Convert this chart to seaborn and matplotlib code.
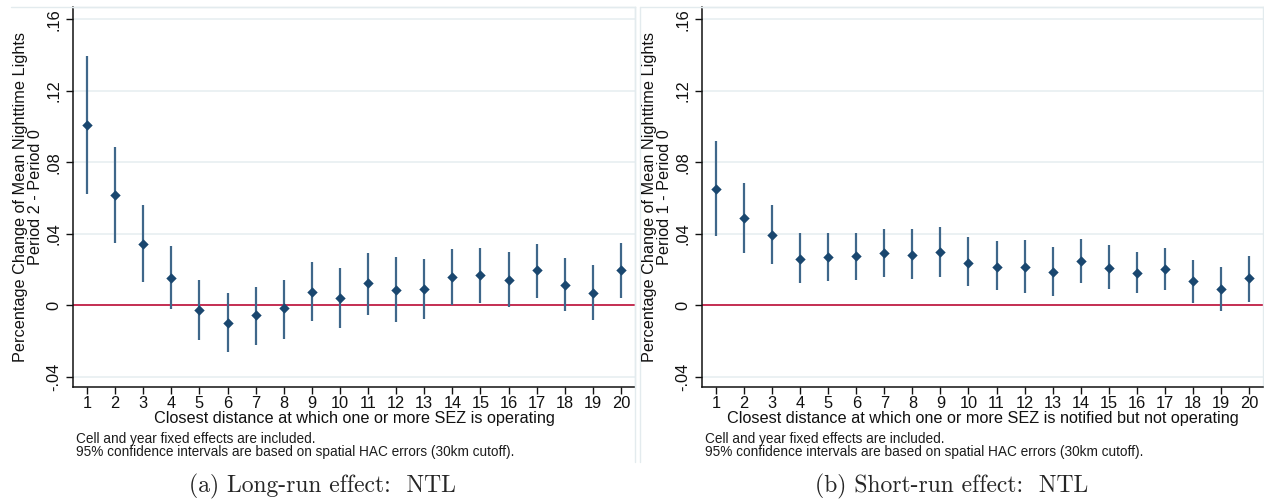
import matplotlib
matplotlib.use("Agg")
import matplotlib.pyplot as plt
from matplotlib.lines import Line2D
import numpy as np
import pandas as pd
import seaborn as sns

# Distance bins (km) to the closest SEZ
distance = list(range(1, 21))

# Panel (a): long-run effect, Period 2 - Period 0
long_coef = [0.1007, 0.0616, 0.0343, 0.0151, -0.0026, -0.0101, -0.0056, -0.0017, 0.0076, 0.0041,
             0.0123, 0.0086, 0.0093, 0.0160, 0.0168, 0.0143, 0.0196, 0.0114, 0.0071, 0.0196]
long_hi = [0.1397, 0.0888, 0.0563, 0.0334, 0.0143, 0.0067, 0.0104, 0.0142, 0.0244, 0.0207,
           0.0291, 0.0269, 0.0261, 0.0313, 0.0319, 0.0297, 0.0341, 0.0266, 0.0224, 0.0349]
long_lo = [0.0623, 0.0347, 0.0130, -0.0022, -0.0194, -0.0261, -0.0222, -0.0187, -0.0090, -0.0127,
           -0.0056, -0.0092, -0.0077, 0.0000, 0.0011, -0.0011, 0.0041, -0.0032, -0.0082, 0.0041]

# Panel (b): short-run effect, Period 1 - Period 0
short_coef = [0.0653, 0.0490, 0.0393, 0.0261, 0.0270, 0.0278, 0.0291, 0.0283, 0.0300, 0.0238,
              0.0216, 0.0216, 0.0186, 0.0248, 0.0210, 0.0181, 0.0203, 0.0136, 0.0091, 0.0151]
short_hi = [0.0918, 0.0683, 0.0561, 0.0406, 0.0406, 0.0406, 0.0425, 0.0425, 0.0440, 0.0380,
            0.0358, 0.0365, 0.0328, 0.0373, 0.0336, 0.0297, 0.0321, 0.0252, 0.0216, 0.0276]
short_lo = [0.0390, 0.0293, 0.0233, 0.0123, 0.0136, 0.0143, 0.0160, 0.0145, 0.0160, 0.0108,
            0.0086, 0.0071, 0.0050, 0.0123, 0.0093, 0.0071, 0.0086, 0.0011, -0.0032, 0.0018]

ytick_vals = [-0.04, 0.0, 0.04, 0.08, 0.12, 0.16]
ytick_labels = ["-.04", "0", ".04", ".08", ".12", ".16"]

xlabels = ["Closest distance at which one or more SEZ is operating",
           "Closest distance at which one or more SEZ is notified but not operating"]
ylabels = ["Percentage Change of Mean Nighttime Lights\nPeriod 2 - Period 0",
           "Percentage Change of Mean Nighttime Lights\nPeriod 1 - Period 0"]
note_lines = ["Cell and year fixed effects are included.",
              "95% confidence intervals are based on spatial HAC errors (30km cutoff)."]
captions = ["(a) Long-run effect:  NTL", "(b) Short-run effect:  NTL"]

sns.set_theme(style="white")
plt.rcParams["font.family"] = ["Liberation Sans", "DejaVu Sans"]

NAVY = "#1a476f"
CI_COL = "#3f678a"
ZERO_COL = "#c21f46"
GRID_COL = "#e7eff1"
FRAME_COL = "#e3ebee"

W, H = 1264, 503
fig = plt.figure(figsize=(W / 100, H / 100), dpi=100)
fig.patch.set_facecolor("white")

panels = [
    dict(coef=long_coef, lo=long_lo, hi=long_hi, x0=73, x1=635),
    dict(coef=short_coef, lo=short_lo, hi=short_hi, x0=702, x1=1263),
]
top_px, bot_px = 7, 387

for i, p in enumerate(panels):
    ax = fig.add_axes([p["x0"] / W, (H - bot_px) / H, (p["x1"] - p["x0"]) / W, (bot_px - top_px) / H])
    df = pd.DataFrame({"dist": distance, "coef": p["coef"], "lo": p["lo"], "hi": p["hi"]})

    ax.set_xlim(0.5, 20.5)
    ax.set_ylim(-0.0457, 0.1669)

    for yv in ytick_vals:
        ax.axhline(yv, color=GRID_COL, lw=1.2, zorder=0)
    ax.axhline(0, color=ZERO_COL, lw=1.3, zorder=1)

    ax.vlines(df["dist"], df["lo"], df["hi"], color=CI_COL, lw=1.6, zorder=2)
    sns.scatterplot(data=df, x="dist", y="coef", marker="D", s=28, color=NAVY,
                    linewidth=0, zorder=3, ax=ax, legend=False)

    ax.set_xticks(distance)
    ax.set_xticklabels([str(d) for d in distance], fontsize=11.8)
    ax.set_yticks(ytick_vals)
    ax.set_yticklabels(ytick_labels, fontsize=11.8, rotation=90, va="center")
    ax.tick_params(axis="both", direction="out", length=5, width=1.0, color="#111111",
                   colors="#111111", bottom=True, left=True)
    ax.tick_params(axis="x", pad=1.5)
    ax.tick_params(axis="y", pad=3.5)

    for side in ["left", "bottom"]:
        ax.spines[side].set_color("#111111")
        ax.spines[side].set_linewidth(1.1)
    for side in ["top", "right"]:
        ax.spines[side].set_color(FRAME_COL)
        ax.spines[side].set_linewidth(1.0)

    ax.set_xlabel(xlabels[i], fontsize=11.7, labelpad=0, color="#111111")
    ax.set_ylabel("")
    fig.text((p["x0"] - 45) / W, 1 - 197 / H, ylabels[i], rotation=90, ha="center",
             va="center", multialignment="center", fontsize=11.7, linespacing=1.0,
             color="#111111")

    fig.text((p["x0"] + 3) / W, 1 - 439 / H, note_lines[0], fontsize=9.8, ha="left",
             va="center", color="#1c1c1c")
    fig.text((p["x0"] + 3) / W, 1 - 452 / H, note_lines[1], fontsize=9.8, ha="left",
             va="center", color="#1c1c1c")

# Faint outlines of the two graph regions
fig.add_artist(Line2D([635 / W, 635 / W], [1 - 7 / H, 1 - 462 / H], color=FRAME_COL, lw=1.0))
fig.add_artist(Line2D([640 / W, 640 / W], [1 - 7 / H, 1 - 462 / H], color=FRAME_COL, lw=1.0))
fig.add_artist(Line2D([11 / W, 635 / W], [1 - 7 / H, 1 - 7 / H], color=FRAME_COL, lw=1.0))
fig.add_artist(Line2D([640 / W, 1263 / W], [1 - 7 / H, 1 - 7 / H], color=FRAME_COL, lw=1.0))

fig.text(322 / W, 1 - 486 / H, captions[0], family="cmr10", fontsize=17, ha="center", va="center")
fig.text(952 / W, 1 - 486 / H, captions[1], family="cmr10", fontsize=17, ha="center", va="center")

fig.savefig("out.png", dpi=100, facecolor="white")
